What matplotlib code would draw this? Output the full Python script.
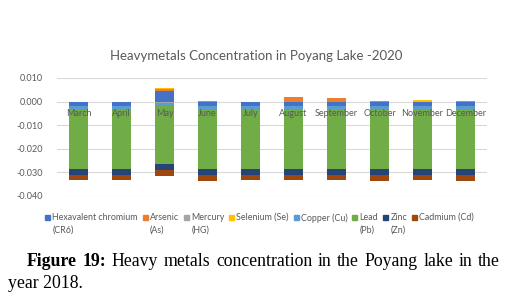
import matplotlib
matplotlib.use("Agg")
import matplotlib.pyplot as plt
from matplotlib.patches import Rectangle
import numpy as np

months = ["March", "April", "May", "June", "July", "August",
          "September", "October", "November", "December"]

hex_cr = [-0.0017, -0.0017, 0.0045, -0.0017, -0.0017, -0.0017, -0.0017, -0.0017, -0.0017, -0.0017]
arsenic = [-0.0004, -0.0004, 0.0007, 0.0004, -0.0004, 0.0018, 0.0014, 0.0004, -0.0001, 0.0004]
mercury = [0.0, 0.0, -0.0005, 0.0, 0.0, 0.0, 0.0, -0.0002, 0.0, -0.0003]
selenium = [0.0, 0.0, 0.0005, 0.0, 0.0, 0.0003, 0.0003, 0.0, 0.0007, 0.0]
copper = [-0.0014, -0.0014, -0.0011, -0.0018, -0.0014, -0.0016, -0.0016, -0.0014, -0.0016, -0.0013]
lead = [-0.0251, -0.0251, -0.0248, -0.0252, -0.0251, -0.0254, -0.0254, -0.0254, -0.0254, -0.0254]
zinc = [-0.0025, -0.0025, -0.0026, -0.0025, -0.0025, -0.0023, -0.0023, -0.0025, -0.0023, -0.0025]
cadmium = [-0.0024, -0.0024, -0.0026, -0.0024, -0.0024, -0.0024, -0.0024, -0.0024, -0.0024, -0.0024]

series = [
    ("Hexavalent chromium\n(CR6)", hex_cr, "#4472C4"),
    ("Arsenic\n(As)", arsenic, "#ED7D31"),
    ("Mercury\n(HG)", mercury, "#A5A5A5"),
    ("Selenium (Se)", selenium, "#FFC000"),
    ("Copper (Cu)", copper, "#5B9BD5"),
    ("Lead\n(Pb)", lead, "#70AD47"),
    ("Zinc\n(Zn)", zinc, "#264478"),
    ("Cadmium (Cd)", cadmium, "#9E480E"),
]

grey = "#595959"
plt.rcParams["font.family"] = ["Lato", "DejaVu Sans"]

fig = plt.figure(figsize=(5.12, 3.01), dpi=100)
ax = fig.add_axes([57 / 512, 1 - 195.7 / 301, 430 / 512, (195.7 - 78) / 301])

x = np.arange(len(months))
pos_base = np.zeros(len(months))
neg_base = np.zeros(len(months))
for name, vals, col in series:
    vals = np.array(vals)
    bottoms = np.where(vals >= 0, pos_base, neg_base)
    ax.bar(x, vals, 0.42, bottom=bottoms, color=col, label=name, zorder=2)
    pos_base = pos_base + np.where(vals >= 0, vals, 0)
    neg_base = neg_base + np.where(vals < 0, vals, 0)

ax.set_xlim(-0.5, len(months) - 0.5)
ax.set_ylim(-0.04, 0.01)
ticks = np.arange(-0.04, 0.0101, 0.01)
ax.set_yticks(ticks)
ax.set_yticklabels([f"{v:.3f}" for v in ticks])
ax.yaxis.grid(True, color="#D9D9D9", linewidth=0.8)
ax.set_axisbelow(True)
for s in ax.spines.values():
    s.set_visible(False)
ax.set_xticks([])
ax.tick_params(axis="both", length=0, colors=grey, labelsize=6.5)
ax.tick_params(axis="y", pad=10)

# category labels sit at the zero line, drawn over the bars
for xi, m in zip(x, months):
    ax.annotate(m, (xi, 0), xytext=(0, -12), textcoords="offset pixels",
                ha="center", va="center", fontsize=6.5, color=grey, zorder=5)

fig.text(0.5, 1 - 56 / 301, "Heavymetals Concentration in Poyang Lake -2020",
         ha="center", va="center", color=grey, fontsize=9.5)

# legend built by hand so the key square lines up with the first text line
fig.canvas.draw()
renderer = fig.canvas.get_renderer()
cur = 45
ytop = 213
sq = 5
for name, vals, col in series:
    fig.patches.append(Rectangle((cur / 512, 1 - (ytop + 1.5 + sq) / 301), sq / 512, sq / 301,
                                 transform=fig.transFigure, color=col))
    t = fig.text((cur + sq + 2.5) / 512, 1 - ytop / 301, name, fontsize=6.4,
                 color=grey, va="top", ha="left", linespacing=1.45)
    cur += sq + 2.5 + t.get_window_extent(renderer).width + 4.5

# caption, justified first line
serif = "Liberation Serif"
fs = 12.8
words = [("Figure", "bold"), ("19:", "bold"), ("Heavy", "normal"), ("metals", "normal"),
         ("concentration", "normal"), ("in", "normal"), ("the", "normal"),
         ("Poyang", "normal"), ("lake", "normal"), ("in", "normal"), ("the", "normal")]
texts = []
for w, wt in words:
    t = fig.text(0, 1 - 261 / 301, w, fontsize=fs, family=serif, weight=wt,
                 va="center", ha="left")
    texts.append(t)
widths = [t.get_window_extent(renderer).width for t in texts]
x0, x1 = 27, 500
gap = (x1 - x0 - sum(widths)) / (len(words) - 1)
cur = x0
for t, w in zip(texts, widths):
    t.set_x(cur / 512)
    cur += w + gap
fig.text(8 / 512, 1 - 283 / 301, "year 2018.", fontsize=fs, family=serif,
         va="center", ha="left")

fig.savefig("out.png", dpi=100)
